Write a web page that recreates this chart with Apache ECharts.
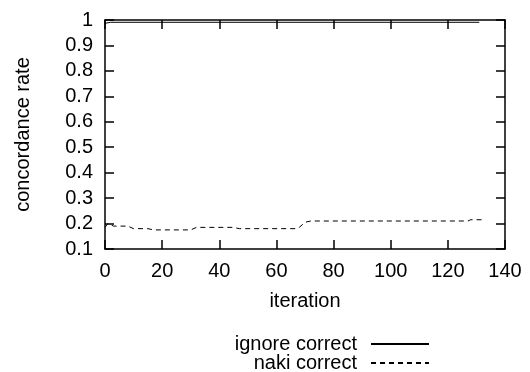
<html>
<head>
    <meta charset="utf-8">
    <title>concordance rate</title>
    <script src="https://cdn.jsdelivr.net/npm/echarts@6/dist/echarts.min.js"></script>
</head>
<body style="margin:0">
    <div id="main" style="width: 530px; height: 372px;"></div>
    <script type="text/javascript">
        // iteration / rate points
        var ignoreData = [[0, 0.987], [2, 0.991], [131, 0.991]];
        var nakiData = [
            [0, 0.185], [1, 0.2], [3, 0.19], [8, 0.19], [10, 0.18], [15, 0.18],
            [17, 0.175], [30, 0.175], [32, 0.185], [45, 0.185], [47, 0.18],
            [67, 0.18], [68, 0.185], [70, 0.205], [72, 0.21], [127, 0.21],
            [128, 0.215], [132, 0.215]
        ];
        var seriesNames = ['ignore correct', 'naki correct'];

        var font = 'Liberation Sans, Arial, sans-serif';
        var chart = echarts.init(document.getElementById('main'));

        var frameLine = { show: true, onZero: false, lineStyle: { color: '#000', width: 1.5 } };
        var tick = { show: true, inside: true, length: 9, lineStyle: { color: '#000', width: 1.5 } };
        var legendText = { fontFamily: font, fontSize: 20, color: '#000', padding: [0, 9, 0, 0] };

        var option = {
            animation: false,
            grid: { left: 105, top: 20, right: 25, bottom: 123 },
            legend: [{
                data: [seriesNames[0]],
                right: 95, top: 329,
                align: 'right',
                itemWidth: 58, itemHeight: 14,
                itemStyle: { opacity: 0 },
                textStyle: legendText
            }, {
                data: [seriesNames[1]],
                right: 95, top: 348,
                align: 'right',
                itemWidth: 58, itemHeight: 14,
                itemStyle: { opacity: 0 },
                textStyle: legendText
            }],
            xAxis: [{
                type: 'value',
                min: 0, max: 140, interval: 20,
                name: 'iteration',
                nameLocation: 'middle',
                nameGap: 42,
                nameTextStyle: { fontFamily: font, fontSize: 20, color: '#000' },
                axisLine: frameLine,
                axisTick: tick,
                axisLabel: { fontFamily: font, fontSize: 20, color: '#000', margin: 12 },
                splitLine: { show: false }
            }, {
                type: 'value',
                position: 'top',
                min: 0, max: 140, interval: 20,
                axisLine: frameLine,
                axisTick: tick,
                axisLabel: { show: false },
                splitLine: { show: false }
            }],
            yAxis: [{
                type: 'value',
                min: 0.1, max: 1, interval: 0.1,
                name: 'concordance rate',
                nameLocation: 'middle',
                nameGap: 72,
                nameTextStyle: { fontFamily: font, fontSize: 20, color: '#000' },
                axisLine: frameLine,
                axisTick: tick,
                axisLabel: {
                    fontFamily: font, fontSize: 20, color: '#000', margin: 12,
                    formatter: function (v) { return String(+v.toFixed(1)); }
                },
                splitLine: { show: false }
            }, {
                type: 'value',
                position: 'right',
                min: 0.1, max: 1, interval: 0.1,
                axisLine: frameLine,
                axisTick: tick,
                axisLabel: { show: false },
                splitLine: { show: false }
            }],
            series: [{
                name: seriesNames[0],
                type: 'line',
                symbol: 'none',
                data: ignoreData,
                itemStyle: { color: '#000' },
                lineStyle: { color: '#000', width: 1 }
            }, {
                name: seriesNames[1],
                type: 'line',
                symbol: 'none',
                data: nakiData,
                itemStyle: { color: '#000' },
                lineStyle: { color: '#000', width: 1, type: [5, 4] }
            }]
        };
        chart.setOption(option);
    </script>
</body>
</html>
